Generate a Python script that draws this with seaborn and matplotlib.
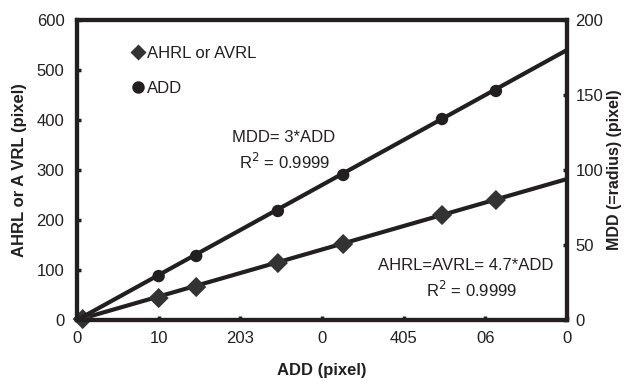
import matplotlib
matplotlib.use("Agg")
import matplotlib.pyplot as plt
from matplotlib.lines import Line2D
import numpy as np
import pandas as pd
import seaborn as sns

# Measured points
add_diamond = [0.7, 10.0, 14.6, 24.6, 32.6, 44.7, 51.3]
ahrl = [2, 44, 66, 114, 152, 210, 240]
add_circle = [10.0, 14.6, 24.6, 32.6, 44.7, 51.3]
mdd = [29.3, 42.7, 72.7, 96.7, 134, 152.7]

# Linear fits through the origin
slope_ahrl = 4.7
slope_mdd = 3.0
fit_x = [0, 60]

x_ticks = [0, 10, 20, 30, 40, 50, 60]
x_ticklabels = ["0", "10", "203", "0", "405", "06", "0"]
left_ticks = [0, 100, 200, 300, 400, 500, 600]
right_ticks = [0, 50, 100, 150, 200]

sns.set_style("ticks")
plt.rcParams["font.family"] = ["Liberation Sans", "DejaVu Sans"]

ink = "#231f20"
diamond_col = "#333333"
fs = 12

fig = plt.figure(figsize=(6.32, 3.81), dpi=100)
ax = fig.add_axes([0.1218, 0.160, 0.7753, 0.7875])
ax2 = ax.twinx()

df_fit = pd.DataFrame({"x": fit_x,
                       "ahrl": [slope_ahrl * v for v in fit_x],
                       "mdd": [slope_mdd * v for v in fit_x]})
df_a = pd.DataFrame({"x": add_diamond, "y": ahrl})
df_m = pd.DataFrame({"x": add_circle, "y": mdd})

sns.lineplot(data=df_fit, x="x", y="ahrl", ax=ax, color=ink, lw=3.0)
sns.scatterplot(data=df_a, x="x", y="y", ax=ax, marker="D", s=105,
                color=diamond_col, edgecolor="none", clip_on=False, zorder=5)

sns.lineplot(data=df_fit, x="x", y="mdd", ax=ax2, color=ink, lw=3.0)
sns.scatterplot(data=df_m, x="x", y="y", ax=ax2, marker="o", s=80,
                color=ink, edgecolor="none", clip_on=False, zorder=5)

ax.set_xlim(0, 60)
ax.set_ylim(0, 600)
ax2.set_ylim(0, 200)

ax.set_xticks(x_ticks)
ax.set_xticklabels(x_ticklabels)
ax.set_yticks(left_ticks)
ax2.set_yticks(right_ticks)

for a in (ax, ax2):
    for sp in a.spines.values():
        sp.set_linewidth(3.0)
        sp.set_color(ink)
        sp.set_visible(True)
    a.tick_params(direction="in", length=3, width=2.5, color=ink,
                  labelsize=fs, labelcolor=ink)

ax.tick_params(axis="x", pad=8)
ax.tick_params(axis="y", pad=9)
ax2.tick_params(axis="y", pad=6)

ax.set_xlabel("ADD (pixel)", fontsize=fs, fontweight="bold", color=ink, labelpad=12)
ax.set_ylabel("AHRL or A VRL (pixel)", fontsize=fs, fontweight="bold", color=ink, labelpad=7)
ax2.set_ylabel("MDD (=radius) (pixel)", fontsize=11.5, fontweight="bold", color=ink, labelpad=3)

handles = [
    Line2D([], [], ls="none", marker="D", ms=8, color=diamond_col, mec="none"),
    Line2D([], [], ls="none", marker="o", ms=9, color=ink, mec="none"),
]
ax.legend(handles, ["AHRL or AVRL", "ADD"], loc="upper left",
          bbox_to_anchor=(0.077, 0.965), frameon=False, handletextpad=0.05,
          handlelength=1.0, labelspacing=1.2, fontsize=fs, labelcolor=ink)

ax.text(0.422, 0.607, "MDD= 3*ADD", transform=ax.transAxes, ha="center",
        va="center", fontsize=fs, color=ink)
ax.text(0.424, 0.527, "R$^2$ = 0.9999", transform=ax.transAxes, ha="center",
        va="center", fontsize=fs, color=ink)
ax.text(0.794, 0.183, "AHRL=AVRL= 4.7*ADD", transform=ax.transAxes, ha="center",
        va="center", fontsize=fs, color=ink)
ax.text(0.806, 0.100, "R$^2$ = 0.9999", transform=ax.transAxes, ha="center",
        va="center", fontsize=fs, color=ink)

fig.savefig("out.png", dpi=100)
